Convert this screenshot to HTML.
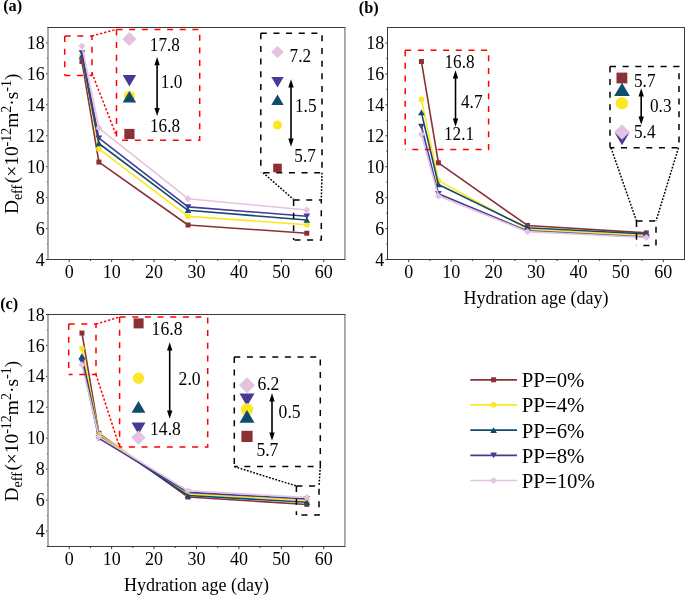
<!DOCTYPE html>
<html lang="en">
<head>
<meta charset="utf-8">
<title>Effective diffusion coefficient versus hydration age</title>
<style>
html,body{margin:0;padding:0;background:#fff;}
body{width:685px;height:595px;overflow:hidden;}
svg{display:block;font-family:"Liberation Serif", serif;fill:#000;}
</style>
</head>
<body>
<svg width="685" height="595" viewBox="0 0 685 595">
<rect x="0" y="0" width="685" height="595" fill="#fff"/>
<g id="pa">
<line x1="69.21" y1="259.5" x2="69.21" y2="262.1" stroke="#3a3a3a" stroke-width="1"/>
<line x1="90.43" y1="259.5" x2="90.43" y2="261.0" stroke="#3a3a3a" stroke-width="1"/>
<line x1="111.64" y1="259.5" x2="111.64" y2="262.1" stroke="#3a3a3a" stroke-width="1"/>
<line x1="132.86" y1="259.5" x2="132.86" y2="261.0" stroke="#3a3a3a" stroke-width="1"/>
<line x1="154.07" y1="259.5" x2="154.07" y2="262.1" stroke="#3a3a3a" stroke-width="1"/>
<line x1="175.29" y1="259.5" x2="175.29" y2="261.0" stroke="#3a3a3a" stroke-width="1"/>
<line x1="196.50" y1="259.5" x2="196.50" y2="262.1" stroke="#3a3a3a" stroke-width="1"/>
<line x1="217.71" y1="259.5" x2="217.71" y2="261.0" stroke="#3a3a3a" stroke-width="1"/>
<line x1="238.93" y1="259.5" x2="238.93" y2="262.1" stroke="#3a3a3a" stroke-width="1"/>
<line x1="260.14" y1="259.5" x2="260.14" y2="261.0" stroke="#3a3a3a" stroke-width="1"/>
<line x1="281.36" y1="259.5" x2="281.36" y2="262.1" stroke="#3a3a3a" stroke-width="1"/>
<line x1="302.57" y1="259.5" x2="302.57" y2="261.0" stroke="#3a3a3a" stroke-width="1"/>
<line x1="323.79" y1="259.5" x2="323.79" y2="262.1" stroke="#3a3a3a" stroke-width="1"/>
<line x1="46.0" y1="259.50" x2="48" y2="259.50" stroke="#3a3a3a" stroke-width="1"/>
<line x1="46.8" y1="244.03" x2="48" y2="244.03" stroke="#3a3a3a" stroke-width="1"/>
<line x1="46.0" y1="228.57" x2="48" y2="228.57" stroke="#3a3a3a" stroke-width="1"/>
<line x1="46.8" y1="213.10" x2="48" y2="213.10" stroke="#3a3a3a" stroke-width="1"/>
<line x1="46.0" y1="197.63" x2="48" y2="197.63" stroke="#3a3a3a" stroke-width="1"/>
<line x1="46.8" y1="182.17" x2="48" y2="182.17" stroke="#3a3a3a" stroke-width="1"/>
<line x1="46.0" y1="166.70" x2="48" y2="166.70" stroke="#3a3a3a" stroke-width="1"/>
<line x1="46.8" y1="151.23" x2="48" y2="151.23" stroke="#3a3a3a" stroke-width="1"/>
<line x1="46.0" y1="135.77" x2="48" y2="135.77" stroke="#3a3a3a" stroke-width="1"/>
<line x1="46.8" y1="120.30" x2="48" y2="120.30" stroke="#3a3a3a" stroke-width="1"/>
<line x1="46.0" y1="104.83" x2="48" y2="104.83" stroke="#3a3a3a" stroke-width="1"/>
<line x1="46.8" y1="89.37" x2="48" y2="89.37" stroke="#3a3a3a" stroke-width="1"/>
<line x1="46.0" y1="73.90" x2="48" y2="73.90" stroke="#3a3a3a" stroke-width="1"/>
<line x1="46.8" y1="58.43" x2="48" y2="58.43" stroke="#3a3a3a" stroke-width="1"/>
<line x1="46.0" y1="42.97" x2="48" y2="42.97" stroke="#3a3a3a" stroke-width="1"/>
<line x1="47.4" y1="27.50" x2="48" y2="27.50" stroke="#3a3a3a" stroke-width="1"/>
<line x1="47.5" y1="27.5" x2="345.5" y2="27.5" stroke="#3a3a3a" stroke-width="1"/>
<line x1="47.5" y1="259.5" x2="345.5" y2="259.5" stroke="#3a3a3a" stroke-width="1"/>
<line x1="48" y1="28.0" x2="48" y2="259.0" stroke="#989898" stroke-width="1.6"/>
<line x1="344.9" y1="28.0" x2="344.9" y2="259.0" stroke="#989898" stroke-width="1.6"/>
<text x="69.21" y="277.60" font-size="18" text-anchor="middle" font-weight="normal" >0</text>
<text x="111.64" y="277.60" font-size="18" text-anchor="middle" font-weight="normal" >10</text>
<text x="154.07" y="277.60" font-size="18" text-anchor="middle" font-weight="normal" >20</text>
<text x="196.50" y="277.60" font-size="18" text-anchor="middle" font-weight="normal" >30</text>
<text x="238.93" y="277.60" font-size="18" text-anchor="middle" font-weight="normal" >40</text>
<text x="281.36" y="277.60" font-size="18" text-anchor="middle" font-weight="normal" >50</text>
<text x="323.79" y="277.60" font-size="18" text-anchor="middle" font-weight="normal" >60</text>
<text x="44.80" y="265.60" font-size="18" text-anchor="end" font-weight="normal" >4</text>
<text x="44.80" y="234.67" font-size="18" text-anchor="end" font-weight="normal" >6</text>
<text x="44.80" y="203.73" font-size="18" text-anchor="end" font-weight="normal" >8</text>
<text x="44.80" y="172.80" font-size="18" text-anchor="end" font-weight="normal" >10</text>
<text x="44.80" y="141.87" font-size="18" text-anchor="end" font-weight="normal" >12</text>
<text x="44.80" y="110.93" font-size="18" text-anchor="end" font-weight="normal" >14</text>
<text x="44.80" y="80.00" font-size="18" text-anchor="end" font-weight="normal" >16</text>
<text x="44.80" y="49.07" font-size="18" text-anchor="end" font-weight="normal" >18</text>
<polyline points="81.94,61.53 98.91,162.06 188.01,225.01 306.81,233.21" fill="none" stroke="#8b3035" stroke-width="1.6" stroke-linejoin="round"/>
<rect x="79.44" y="59.03" width="5.00" height="5.00" fill="#8b3035"/>
<rect x="96.41" y="159.56" width="5.00" height="5.00" fill="#8b3035"/>
<rect x="185.51" y="222.51" width="5.00" height="5.00" fill="#8b3035"/>
<rect x="304.31" y="230.71" width="5.00" height="5.00" fill="#8b3035"/>
<polyline points="81.94,55.34 98.91,148.91 188.01,216.35 306.81,224.70" fill="none" stroke="#fbe723" stroke-width="1.6" stroke-linejoin="round"/>
<circle cx="81.94" cy="55.34" r="2.80" fill="#fbe723"/>
<circle cx="98.91" cy="148.91" r="2.80" fill="#fbe723"/>
<circle cx="188.01" cy="216.35" r="2.80" fill="#fbe723"/>
<circle cx="306.81" cy="224.70" r="2.80" fill="#fbe723"/>
<polyline points="81.94,56.11 98.91,143.50 188.01,210.32 306.81,220.06" fill="none" stroke="#0f4c70" stroke-width="1.6" stroke-linejoin="round"/>
<polygon points="81.94,53.11 85.30,58.81 78.58,58.81" fill="#0f4c70"/>
<polygon points="98.91,140.50 102.27,146.20 95.55,146.20" fill="#0f4c70"/>
<polygon points="188.01,207.32 191.37,213.02 184.65,213.02" fill="#0f4c70"/>
<polygon points="306.81,217.06 310.17,222.76 303.45,222.76" fill="#0f4c70"/>
<polyline points="81.94,53.02 98.91,138.09 188.01,206.91 306.81,216.19" fill="none" stroke="#453b92" stroke-width="1.6" stroke-linejoin="round"/>
<polygon points="81.94,56.02 85.30,50.32 78.58,50.32" fill="#453b92"/>
<polygon points="98.91,141.09 102.27,135.39 95.55,135.39" fill="#453b92"/>
<polygon points="188.01,209.91 191.37,204.21 184.65,204.21" fill="#453b92"/>
<polygon points="306.81,219.19 310.17,213.49 303.45,213.49" fill="#453b92"/>
<polyline points="81.94,46.06 98.91,128.03 188.01,198.72 306.81,210.01" fill="none" stroke="#e3c2e2" stroke-width="1.6" stroke-linejoin="round"/>
<polygon points="81.94,42.56 85.44,46.06 81.94,49.56 78.44,46.06" fill="#e3c2e2"/>
<polygon points="98.91,124.53 102.41,128.03 98.91,131.53 95.41,128.03" fill="#e3c2e2"/>
<polygon points="188.01,195.22 191.51,198.72 188.01,202.22 184.51,198.72" fill="#e3c2e2"/>
<polygon points="306.81,206.51 310.31,210.01 306.81,213.51 303.31,210.01" fill="#e3c2e2"/>
<polyline points="64.7,36 92,36 92,75.5 64.7,75.5" fill="none" stroke="#f00" stroke-width="1.5" stroke-dasharray="6 6.65"/><line x1="64.7" y1="36" x2="64.7" y2="75.5" stroke="#f00" stroke-width="1.5" stroke-dasharray="6 6.65"/>
<polyline points="116.5,29.4 199.7,29.4 199.7,140.3 116.5,140.3" fill="none" stroke="#f00" stroke-width="1.5" stroke-dasharray="6 6.65"/><line x1="116.5" y1="29.4" x2="116.5" y2="140.3" stroke="#f00" stroke-width="1.5" stroke-dasharray="6 6.65"/>
<line x1="92" y1="36" x2="116.5" y2="29.3" stroke="#f00" stroke-width="1.5" stroke-dasharray="2.3 1.9"/>
<line x1="92" y1="73" x2="116.5" y2="136" stroke="#f00" stroke-width="1.5" stroke-dasharray="2.3 1.9"/>
<polygon points="129.40,31.90 136.50,39.00 129.40,46.10 122.30,39.00" fill="#e3c2e2"/>
<polygon points="129.40,86.50 136.12,75.10 122.68,75.10" fill="#453b92"/>
<circle cx="129.40" cy="96.30" r="5.60" fill="#fbe723"/>
<polygon points="129.40,91.00 136.12,102.40 122.68,102.40" fill="#0f4c70"/>
<rect x="124.30" y="128.90" width="10.20" height="10.20" fill="#8b3035"/>
<text transform="translate(149.80,50.90) scale(0.955,1)" font-size="18" text-anchor="start" font-weight="normal" >17.8</text>
<text transform="translate(160.80,87.50) scale(0.955,1)" font-size="18" text-anchor="start" font-weight="normal" >1.0</text>
<text transform="translate(150.00,131.60) scale(0.955,1)" font-size="18" text-anchor="start" font-weight="normal" >16.8</text>
<line x1="157.1" y1="61.92" x2="157.1" y2="111.18" stroke="#000" stroke-width="1.6"/><polygon points="157.1,57.0 159.79999999999998,65.2 154.4,65.2" fill="#000"/><polygon points="157.1,116.1 159.79999999999998,107.89999999999999 154.4,107.89999999999999" fill="#000"/>
<polyline points="260.8,33.3 322,33.3 322,172.7 260.8,172.7" fill="none" stroke="#000" stroke-width="1.5" stroke-dasharray="6 6.65"/><line x1="260.8" y1="33.3" x2="260.8" y2="172.7" stroke="#000" stroke-width="1.5" stroke-dasharray="6 6.65"/>
<polyline points="293.6,200 321.3,200 321.3,240 293.6,240" fill="none" stroke="#000" stroke-width="1.5" stroke-dasharray="6 6.65"/><line x1="293.6" y1="200" x2="293.6" y2="240" stroke="#000" stroke-width="1.5" stroke-dasharray="6 6.65"/>
<line x1="263" y1="172.7" x2="293.6" y2="199.5" stroke="#000" stroke-width="1.5" stroke-dasharray="1.8 1.5"/>
<line x1="322" y1="172.7" x2="321.3" y2="200" stroke="#000" stroke-width="1.5" stroke-dasharray="1.8 1.5"/>
<polygon points="277.50,45.70 283.80,52.00 277.50,58.30 271.20,52.00" fill="#e3c2e2"/>
<polygon points="277.50,87.50 283.66,77.05 271.34,77.05" fill="#453b92"/>
<polygon points="277.50,94.50 283.66,104.95 271.34,104.95" fill="#0f4c70"/>
<circle cx="277.50" cy="125.00" r="4.60" fill="#fbe723"/>
<rect x="273.20" y="163.70" width="8.60" height="8.60" fill="#8b3035"/>
<text transform="translate(289.60,62.00) scale(0.955,1)" font-size="18" text-anchor="start" font-weight="normal" >7.2</text>
<text transform="translate(295.00,112.00) scale(0.955,1)" font-size="18" text-anchor="start" font-weight="normal" >1.5</text>
<text transform="translate(294.30,161.80) scale(0.955,1)" font-size="18" text-anchor="start" font-weight="normal" >5.7</text>
<line x1="291" y1="84.12" x2="291" y2="141.88" stroke="#000" stroke-width="1.6"/><polygon points="291,79.2 293.7,87.4 288.3,87.4" fill="#000"/><polygon points="291,146.8 293.7,138.60000000000002 288.3,138.60000000000002" fill="#000"/>
<text transform="translate(17.6,143.8) rotate(-90)" text-anchor="middle" font-size="19.4">D<tspan font-size="14.0" dy="4.3">eff</tspan><tspan dy="-4.3" dx="1.6">(×10</tspan><tspan font-size="14.0" dy="-7.0">-12</tspan><tspan dy="7.0">m</tspan><tspan font-size="14.0" dy="-7.0">2</tspan><tspan dy="7.0">·s</tspan><tspan font-size="14.0" dy="-7.0">-1</tspan><tspan dy="7.0">)</tspan></text>
<text x="3.20" y="11.30" font-size="16.3" text-anchor="start" font-weight="bold" >(a)</text>
</g>
<g id="pb">
<line x1="408.71" y1="259.5" x2="408.71" y2="262.1" stroke="#3a3a3a" stroke-width="1"/>
<line x1="429.93" y1="259.5" x2="429.93" y2="261.0" stroke="#3a3a3a" stroke-width="1"/>
<line x1="451.14" y1="259.5" x2="451.14" y2="262.1" stroke="#3a3a3a" stroke-width="1"/>
<line x1="472.36" y1="259.5" x2="472.36" y2="261.0" stroke="#3a3a3a" stroke-width="1"/>
<line x1="493.57" y1="259.5" x2="493.57" y2="262.1" stroke="#3a3a3a" stroke-width="1"/>
<line x1="514.79" y1="259.5" x2="514.79" y2="261.0" stroke="#3a3a3a" stroke-width="1"/>
<line x1="536.00" y1="259.5" x2="536.00" y2="262.1" stroke="#3a3a3a" stroke-width="1"/>
<line x1="557.21" y1="259.5" x2="557.21" y2="261.0" stroke="#3a3a3a" stroke-width="1"/>
<line x1="578.43" y1="259.5" x2="578.43" y2="262.1" stroke="#3a3a3a" stroke-width="1"/>
<line x1="599.64" y1="259.5" x2="599.64" y2="261.0" stroke="#3a3a3a" stroke-width="1"/>
<line x1="620.86" y1="259.5" x2="620.86" y2="262.1" stroke="#3a3a3a" stroke-width="1"/>
<line x1="642.07" y1="259.5" x2="642.07" y2="261.0" stroke="#3a3a3a" stroke-width="1"/>
<line x1="663.29" y1="259.5" x2="663.29" y2="262.1" stroke="#3a3a3a" stroke-width="1"/>
<line x1="385.5" y1="259.50" x2="387.5" y2="259.50" stroke="#3a3a3a" stroke-width="1"/>
<line x1="386.3" y1="244.03" x2="387.5" y2="244.03" stroke="#3a3a3a" stroke-width="1"/>
<line x1="385.5" y1="228.57" x2="387.5" y2="228.57" stroke="#3a3a3a" stroke-width="1"/>
<line x1="386.3" y1="213.10" x2="387.5" y2="213.10" stroke="#3a3a3a" stroke-width="1"/>
<line x1="385.5" y1="197.63" x2="387.5" y2="197.63" stroke="#3a3a3a" stroke-width="1"/>
<line x1="386.3" y1="182.17" x2="387.5" y2="182.17" stroke="#3a3a3a" stroke-width="1"/>
<line x1="385.5" y1="166.70" x2="387.5" y2="166.70" stroke="#3a3a3a" stroke-width="1"/>
<line x1="386.3" y1="151.23" x2="387.5" y2="151.23" stroke="#3a3a3a" stroke-width="1"/>
<line x1="385.5" y1="135.77" x2="387.5" y2="135.77" stroke="#3a3a3a" stroke-width="1"/>
<line x1="386.3" y1="120.30" x2="387.5" y2="120.30" stroke="#3a3a3a" stroke-width="1"/>
<line x1="385.5" y1="104.83" x2="387.5" y2="104.83" stroke="#3a3a3a" stroke-width="1"/>
<line x1="386.3" y1="89.37" x2="387.5" y2="89.37" stroke="#3a3a3a" stroke-width="1"/>
<line x1="385.5" y1="73.90" x2="387.5" y2="73.90" stroke="#3a3a3a" stroke-width="1"/>
<line x1="386.3" y1="58.43" x2="387.5" y2="58.43" stroke="#3a3a3a" stroke-width="1"/>
<line x1="385.5" y1="42.97" x2="387.5" y2="42.97" stroke="#3a3a3a" stroke-width="1"/>
<line x1="386.9" y1="27.50" x2="387.5" y2="27.50" stroke="#3a3a3a" stroke-width="1"/>
<line x1="387.0" y1="27.5" x2="685.0" y2="27.5" stroke="#3a3a3a" stroke-width="1"/>
<line x1="387.0" y1="259.5" x2="685.0" y2="259.5" stroke="#3a3a3a" stroke-width="1"/>
<line x1="387.5" y1="27.5" x2="387.5" y2="259.5" stroke="#3a3a3a" stroke-width="1"/>
<line x1="684.5" y1="27.5" x2="684.5" y2="259.5" stroke="#3a3a3a" stroke-width="1"/>
<text x="408.71" y="277.60" font-size="18" text-anchor="middle" font-weight="normal" >0</text>
<text x="451.14" y="277.60" font-size="18" text-anchor="middle" font-weight="normal" >10</text>
<text x="493.57" y="277.60" font-size="18" text-anchor="middle" font-weight="normal" >20</text>
<text x="536.00" y="277.60" font-size="18" text-anchor="middle" font-weight="normal" >30</text>
<text x="578.43" y="277.60" font-size="18" text-anchor="middle" font-weight="normal" >40</text>
<text x="620.86" y="277.60" font-size="18" text-anchor="middle" font-weight="normal" >50</text>
<text x="663.29" y="277.60" font-size="18" text-anchor="middle" font-weight="normal" >60</text>
<text x="384.30" y="265.60" font-size="18" text-anchor="end" font-weight="normal" >4</text>
<text x="384.30" y="234.67" font-size="18" text-anchor="end" font-weight="normal" >6</text>
<text x="384.30" y="203.73" font-size="18" text-anchor="end" font-weight="normal" >8</text>
<text x="384.30" y="172.80" font-size="18" text-anchor="end" font-weight="normal" >10</text>
<text x="384.30" y="141.87" font-size="18" text-anchor="end" font-weight="normal" >12</text>
<text x="384.30" y="110.93" font-size="18" text-anchor="end" font-weight="normal" >14</text>
<text x="384.30" y="80.00" font-size="18" text-anchor="end" font-weight="normal" >16</text>
<text x="384.30" y="49.07" font-size="18" text-anchor="end" font-weight="normal" >18</text>
<polyline points="421.44,61.53 438.41,162.83 527.51,225.47 646.31,232.90" fill="none" stroke="#8b3035" stroke-width="1.6" stroke-linejoin="round"/>
<rect x="418.94" y="59.03" width="5.00" height="5.00" fill="#8b3035"/>
<rect x="435.91" y="160.33" width="5.00" height="5.00" fill="#8b3035"/>
<rect x="525.01" y="222.97" width="5.00" height="5.00" fill="#8b3035"/>
<rect x="643.81" y="230.40" width="5.00" height="5.00" fill="#8b3035"/>
<polyline points="421.44,99.42 438.41,180.62 527.51,229.34 646.31,235.53" fill="none" stroke="#fbe723" stroke-width="1.6" stroke-linejoin="round"/>
<circle cx="421.44" cy="99.42" r="2.80" fill="#fbe723"/>
<circle cx="438.41" cy="180.62" r="2.80" fill="#fbe723"/>
<circle cx="527.51" cy="229.34" r="2.80" fill="#fbe723"/>
<circle cx="646.31" cy="235.53" r="2.80" fill="#fbe723"/>
<polyline points="421.44,112.57 438.41,184.49 527.51,227.79 646.31,233.98" fill="none" stroke="#0f4c70" stroke-width="1.6" stroke-linejoin="round"/>
<polygon points="421.44,109.57 424.80,115.27 418.08,115.27" fill="#0f4c70"/>
<polygon points="438.41,181.49 441.77,187.19 435.05,187.19" fill="#0f4c70"/>
<polygon points="527.51,224.79 530.87,230.49 524.15,230.49" fill="#0f4c70"/>
<polygon points="646.31,230.98 649.67,236.68 642.95,236.68" fill="#0f4c70"/>
<polyline points="421.44,126.49 438.41,193.77 527.51,230.89 646.31,237.07" fill="none" stroke="#453b92" stroke-width="1.6" stroke-linejoin="round"/>
<polygon points="421.44,129.49 424.80,123.79 418.08,123.79" fill="#453b92"/>
<polygon points="438.41,196.77 441.77,191.07 435.05,191.07" fill="#453b92"/>
<polygon points="527.51,233.89 530.87,228.19 524.15,228.19" fill="#453b92"/>
<polygon points="646.31,240.07 649.67,234.37 642.95,234.37" fill="#453b92"/>
<polyline points="421.44,134.22 438.41,196.09 527.51,231.66 646.31,237.54" fill="none" stroke="#e3c2e2" stroke-width="1.6" stroke-linejoin="round"/>
<polygon points="421.44,130.72 424.94,134.22 421.44,137.72 417.94,134.22" fill="#e3c2e2"/>
<polygon points="438.41,192.59 441.91,196.09 438.41,199.59 434.91,196.09" fill="#e3c2e2"/>
<polygon points="527.51,228.16 531.01,231.66 527.51,235.16 524.01,231.66" fill="#e3c2e2"/>
<polygon points="646.31,234.04 649.81,237.54 646.31,241.04 642.81,237.54" fill="#e3c2e2"/>
<polyline points="405.2,50.2 488.6,50.2 488.6,149.5 405.2,149.5" fill="none" stroke="#f00" stroke-width="1.5" stroke-dasharray="6 6.65"/><line x1="405.2" y1="50.2" x2="405.2" y2="149.5" stroke="#f00" stroke-width="1.5" stroke-dasharray="6 6.65"/>
<text transform="translate(444.50,67.50) scale(0.955,1)" font-size="18" text-anchor="start" font-weight="normal" >16.8</text>
<text transform="translate(461.00,107.50) scale(0.955,1)" font-size="18" text-anchor="start" font-weight="normal" >4.7</text>
<text transform="translate(444.00,140.00) scale(0.955,1)" font-size="18" text-anchor="start" font-weight="normal" >12.1</text>
<line x1="455.5" y1="75.12" x2="455.5" y2="121.88" stroke="#000" stroke-width="1.6"/><polygon points="455.5,70.2 458.2,78.4 452.8,78.4" fill="#000"/><polygon points="455.5,126.8 458.2,118.6 452.8,118.6" fill="#000"/>
<polyline points="610,66.4 679,66.4 679,147.8 610,147.8" fill="none" stroke="#000" stroke-width="1.5" stroke-dasharray="6 6.65"/><line x1="610" y1="66.4" x2="610" y2="147.8" stroke="#000" stroke-width="1.5" stroke-dasharray="6 6.65"/>
<polyline points="636.5,221 656,221 656,245.5 636.5,245.5" fill="none" stroke="#000" stroke-width="1.5" stroke-dasharray="6 6.65"/><line x1="636.5" y1="221" x2="636.5" y2="245.5" stroke="#000" stroke-width="1.5" stroke-dasharray="6 6.65"/>
<line x1="611" y1="147.8" x2="636.5" y2="221" stroke="#000" stroke-width="1.5" stroke-dasharray="1.8 1.5"/>
<line x1="678.5" y1="147.8" x2="656" y2="221" stroke="#000" stroke-width="1.5" stroke-dasharray="1.8 1.5"/>
<rect x="616.50" y="72.60" width="10.80" height="10.80" fill="#8b3035"/>
<polygon points="622.00,82.70 629.84,96.00 614.16,96.00" fill="#0f4c70"/>
<circle cx="621.90" cy="103.30" r="6.20" fill="#fbe723"/>
<polygon points="622.00,145.30 629.06,133.33 614.94,133.33" fill="#453b92"/>
<polygon points="622.00,124.20 629.80,132.00 622.00,139.80 614.20,132.00" fill="#e3c2e2"/>
<text transform="translate(634.00,86.80) scale(0.955,1)" font-size="18" text-anchor="start" font-weight="normal" >5.7</text>
<text transform="translate(650.00,111.60) scale(0.955,1)" font-size="18" text-anchor="start" font-weight="normal" >0.3</text>
<text transform="translate(634.00,138.30) scale(0.955,1)" font-size="18" text-anchor="start" font-weight="normal" >5.4</text>
<line x1="641.2" y1="93.12" x2="641.2" y2="119.88" stroke="#000" stroke-width="1.6"/><polygon points="641.2,88.2 643.9000000000001,96.4 638.5,96.4" fill="#000"/><polygon points="641.2,124.8 643.9000000000001,116.6 638.5,116.6" fill="#000"/>
<text x="536.00" y="303.80" font-size="18" text-anchor="middle" font-weight="normal" >Hydration age (day)</text>
<text x="358.80" y="13.40" font-size="16.3" text-anchor="start" font-weight="bold" >(b)</text>
</g>
<g id="pc">
<line x1="69.21" y1="546.5" x2="69.21" y2="549.1" stroke="#3a3a3a" stroke-width="1"/>
<line x1="90.43" y1="546.5" x2="90.43" y2="548.0" stroke="#3a3a3a" stroke-width="1"/>
<line x1="111.64" y1="546.5" x2="111.64" y2="549.1" stroke="#3a3a3a" stroke-width="1"/>
<line x1="132.86" y1="546.5" x2="132.86" y2="548.0" stroke="#3a3a3a" stroke-width="1"/>
<line x1="154.07" y1="546.5" x2="154.07" y2="549.1" stroke="#3a3a3a" stroke-width="1"/>
<line x1="175.29" y1="546.5" x2="175.29" y2="548.0" stroke="#3a3a3a" stroke-width="1"/>
<line x1="196.50" y1="546.5" x2="196.50" y2="549.1" stroke="#3a3a3a" stroke-width="1"/>
<line x1="217.71" y1="546.5" x2="217.71" y2="548.0" stroke="#3a3a3a" stroke-width="1"/>
<line x1="238.93" y1="546.5" x2="238.93" y2="549.1" stroke="#3a3a3a" stroke-width="1"/>
<line x1="260.14" y1="546.5" x2="260.14" y2="548.0" stroke="#3a3a3a" stroke-width="1"/>
<line x1="281.36" y1="546.5" x2="281.36" y2="549.1" stroke="#3a3a3a" stroke-width="1"/>
<line x1="302.57" y1="546.5" x2="302.57" y2="548.0" stroke="#3a3a3a" stroke-width="1"/>
<line x1="323.79" y1="546.5" x2="323.79" y2="549.1" stroke="#3a3a3a" stroke-width="1"/>
<line x1="46.8" y1="546.50" x2="48" y2="546.50" stroke="#3a3a3a" stroke-width="1"/>
<line x1="46.0" y1="531.03" x2="48" y2="531.03" stroke="#3a3a3a" stroke-width="1"/>
<line x1="46.8" y1="515.57" x2="48" y2="515.57" stroke="#3a3a3a" stroke-width="1"/>
<line x1="46.0" y1="500.10" x2="48" y2="500.10" stroke="#3a3a3a" stroke-width="1"/>
<line x1="46.8" y1="484.63" x2="48" y2="484.63" stroke="#3a3a3a" stroke-width="1"/>
<line x1="46.0" y1="469.17" x2="48" y2="469.17" stroke="#3a3a3a" stroke-width="1"/>
<line x1="46.8" y1="453.70" x2="48" y2="453.70" stroke="#3a3a3a" stroke-width="1"/>
<line x1="46.0" y1="438.23" x2="48" y2="438.23" stroke="#3a3a3a" stroke-width="1"/>
<line x1="46.8" y1="422.77" x2="48" y2="422.77" stroke="#3a3a3a" stroke-width="1"/>
<line x1="46.0" y1="407.30" x2="48" y2="407.30" stroke="#3a3a3a" stroke-width="1"/>
<line x1="46.8" y1="391.83" x2="48" y2="391.83" stroke="#3a3a3a" stroke-width="1"/>
<line x1="46.0" y1="376.37" x2="48" y2="376.37" stroke="#3a3a3a" stroke-width="1"/>
<line x1="46.8" y1="360.90" x2="48" y2="360.90" stroke="#3a3a3a" stroke-width="1"/>
<line x1="46.0" y1="345.43" x2="48" y2="345.43" stroke="#3a3a3a" stroke-width="1"/>
<line x1="46.8" y1="329.97" x2="48" y2="329.97" stroke="#3a3a3a" stroke-width="1"/>
<line x1="46.0" y1="314.50" x2="48" y2="314.50" stroke="#3a3a3a" stroke-width="1"/>
<line x1="47.5" y1="314.5" x2="345.5" y2="314.5" stroke="#3a3a3a" stroke-width="1"/>
<line x1="47.5" y1="546.5" x2="345.5" y2="546.5" stroke="#3a3a3a" stroke-width="1"/>
<line x1="48" y1="315.0" x2="48" y2="546.0" stroke="#989898" stroke-width="1.6"/>
<line x1="344.9" y1="315.0" x2="344.9" y2="546.0" stroke="#989898" stroke-width="1.6"/>
<text x="69.21" y="564.60" font-size="18" text-anchor="middle" font-weight="normal" >0</text>
<text x="111.64" y="564.60" font-size="18" text-anchor="middle" font-weight="normal" >10</text>
<text x="154.07" y="564.60" font-size="18" text-anchor="middle" font-weight="normal" >20</text>
<text x="196.50" y="564.60" font-size="18" text-anchor="middle" font-weight="normal" >30</text>
<text x="238.93" y="564.60" font-size="18" text-anchor="middle" font-weight="normal" >40</text>
<text x="281.36" y="564.60" font-size="18" text-anchor="middle" font-weight="normal" >50</text>
<text x="323.79" y="564.60" font-size="18" text-anchor="middle" font-weight="normal" >60</text>
<text x="44.80" y="537.13" font-size="18" text-anchor="end" font-weight="normal" >4</text>
<text x="44.80" y="506.20" font-size="18" text-anchor="end" font-weight="normal" >6</text>
<text x="44.80" y="475.27" font-size="18" text-anchor="end" font-weight="normal" >8</text>
<text x="44.80" y="444.33" font-size="18" text-anchor="end" font-weight="normal" >10</text>
<text x="44.80" y="413.40" font-size="18" text-anchor="end" font-weight="normal" >12</text>
<text x="44.80" y="382.47" font-size="18" text-anchor="end" font-weight="normal" >14</text>
<text x="44.80" y="351.53" font-size="18" text-anchor="end" font-weight="normal" >16</text>
<text x="44.80" y="320.60" font-size="18" text-anchor="end" font-weight="normal" >18</text>
<polyline points="81.94,333.06 98.91,433.28 188.01,497.01 306.81,504.43" fill="none" stroke="#8b3035" stroke-width="1.6" stroke-linejoin="round"/>
<rect x="79.44" y="330.56" width="5.00" height="5.00" fill="#8b3035"/>
<rect x="96.41" y="430.78" width="5.00" height="5.00" fill="#8b3035"/>
<rect x="185.51" y="494.51" width="5.00" height="5.00" fill="#8b3035"/>
<rect x="304.31" y="501.93" width="5.00" height="5.00" fill="#8b3035"/>
<polyline points="81.94,348.53 98.91,434.37 188.01,493.91 306.81,500.56" fill="none" stroke="#fbe723" stroke-width="1.6" stroke-linejoin="round"/>
<circle cx="81.94" cy="348.53" r="2.80" fill="#fbe723"/>
<circle cx="98.91" cy="434.37" r="2.80" fill="#fbe723"/>
<circle cx="188.01" cy="493.91" r="2.80" fill="#fbe723"/>
<circle cx="306.81" cy="500.56" r="2.80" fill="#fbe723"/>
<polyline points="81.94,356.26 98.91,435.91 188.01,495.46 306.81,502.27" fill="none" stroke="#0f4c70" stroke-width="1.6" stroke-linejoin="round"/>
<polygon points="81.94,353.26 85.30,358.96 78.58,358.96" fill="#0f4c70"/>
<polygon points="98.91,432.91 102.27,438.61 95.55,438.61" fill="#0f4c70"/>
<polygon points="188.01,492.46 191.37,498.16 184.65,498.16" fill="#0f4c70"/>
<polygon points="306.81,499.27 310.17,504.97 303.45,504.97" fill="#0f4c70"/>
<polyline points="81.94,361.36 98.91,438.23 188.01,492.37 306.81,499.02" fill="none" stroke="#453b92" stroke-width="1.6" stroke-linejoin="round"/>
<polygon points="81.94,364.36 85.30,358.66 78.58,358.66" fill="#453b92"/>
<polygon points="98.91,441.23 102.27,435.53 95.55,435.53" fill="#453b92"/>
<polygon points="188.01,495.37 191.37,489.67 184.65,489.67" fill="#453b92"/>
<polygon points="306.81,502.02 310.17,496.32 303.45,496.32" fill="#453b92"/>
<polyline points="81.94,364.77 98.91,436.69 188.01,490.82 306.81,497.47" fill="none" stroke="#e3c2e2" stroke-width="1.6" stroke-linejoin="round"/>
<polygon points="81.94,361.27 85.44,364.77 81.94,368.27 78.44,364.77" fill="#e3c2e2"/>
<polygon points="98.91,433.19 102.41,436.69 98.91,440.19 95.41,436.69" fill="#e3c2e2"/>
<polygon points="188.01,487.32 191.51,490.82 188.01,494.32 184.51,490.82" fill="#e3c2e2"/>
<polygon points="306.81,493.97 310.31,497.47 306.81,500.97 303.31,497.47" fill="#e3c2e2"/>
<polyline points="68.7,324.1 96,324.1 96,374.6 68.7,374.6" fill="none" stroke="#f00" stroke-width="1.5" stroke-dasharray="6 6.65"/><line x1="68.7" y1="324.1" x2="68.7" y2="374.6" stroke="#f00" stroke-width="1.5" stroke-dasharray="6 6.65"/>
<polyline points="119.6,317 207.7,317 207.7,447 119.6,447" fill="none" stroke="#f00" stroke-width="1.5" stroke-dasharray="6 6.65"/><line x1="119.6" y1="317" x2="119.6" y2="447" stroke="#f00" stroke-width="1.5" stroke-dasharray="6 6.65"/>
<line x1="96" y1="324.1" x2="119.6" y2="317" stroke="#f00" stroke-width="1.5" stroke-dasharray="2.3 1.9"/>
<line x1="96" y1="374.6" x2="119.6" y2="447" stroke="#f00" stroke-width="1.5" stroke-dasharray="2.3 1.9"/>
<rect x="133.60" y="318.40" width="10.00" height="10.00" fill="#8b3035"/>
<circle cx="138.50" cy="378.20" r="5.60" fill="#fbe723"/>
<polygon points="138.50,401.00 145.44,412.78 131.56,412.78" fill="#0f4c70"/>
<polygon points="138.50,434.40 145.44,422.62 131.56,422.62" fill="#453b92"/>
<polygon points="138.50,430.40 145.70,437.60 138.50,444.80 131.30,437.60" fill="#e3c2e2"/>
<text transform="translate(151.60,335.20) scale(0.98,1)" font-size="18" text-anchor="start" font-weight="normal" >16.8</text>
<text transform="translate(178.60,384.60) scale(0.98,1)" font-size="18" text-anchor="start" font-weight="normal" >2.0</text>
<text transform="translate(150.00,435.20) scale(0.98,1)" font-size="18" text-anchor="start" font-weight="normal" >14.8</text>
<line x1="169.7" y1="347.12" x2="169.7" y2="413.88" stroke="#000" stroke-width="1.6"/><polygon points="169.7,342.2 172.39999999999998,350.4 167.0,350.4" fill="#000"/><polygon points="169.7,418.8 172.39999999999998,410.6 167.0,410.6" fill="#000"/>
<polyline points="234.3,356.9 320.3,356.9 320.3,466.6 234.3,466.6" fill="none" stroke="#000" stroke-width="1.5" stroke-dasharray="6 6.65"/><line x1="234.3" y1="356.9" x2="234.3" y2="466.6" stroke="#000" stroke-width="1.5" stroke-dasharray="6 6.65"/>
<polyline points="296.4,486 319,486 319,515.1 296.4,515.1" fill="none" stroke="#000" stroke-width="1.5" stroke-dasharray="6 6.65"/><line x1="296.4" y1="486" x2="296.4" y2="515.1" stroke="#000" stroke-width="1.5" stroke-dasharray="6 6.65"/>
<line x1="234.3" y1="466.6" x2="296.4" y2="486" stroke="#000" stroke-width="1.5" stroke-dasharray="1.8 1.5"/>
<line x1="320.3" y1="466.6" x2="319" y2="486" stroke="#000" stroke-width="1.5" stroke-dasharray="1.8 1.5"/>
<polygon points="247.00,377.30 255.00,385.30 247.00,393.30 239.00,385.30" fill="#e3c2e2"/>
<polygon points="247.00,406.30 254.50,393.57 239.50,393.57" fill="#453b92"/>
<circle cx="247.00" cy="409.40" r="6.20" fill="#fbe723"/>
<polygon points="247.00,409.90 254.50,422.63 239.50,422.63" fill="#0f4c70"/>
<rect x="241.40" y="430.80" width="11.20" height="11.20" fill="#8b3035"/>
<text transform="translate(257.40,389.60) scale(0.98,1)" font-size="18" text-anchor="start" font-weight="normal" >6.2</text>
<text transform="translate(278.60,418.00) scale(0.98,1)" font-size="18" text-anchor="start" font-weight="normal" >0.5</text>
<text transform="translate(256.40,456.00) scale(0.98,1)" font-size="18" text-anchor="start" font-weight="normal" >5.7</text>
<line x1="272" y1="398.12" x2="272" y2="435.88" stroke="#000" stroke-width="1.6"/><polygon points="272,393.2 274.7,401.4 269.3,401.4" fill="#000"/><polygon points="272,440.8 274.7,432.6 269.3,432.6" fill="#000"/>
<text transform="translate(17.6,431.2) rotate(-90)" text-anchor="middle" font-size="19.4">D<tspan font-size="14.0" dy="4.3">eff</tspan><tspan dy="-4.3" dx="1.6">(×10</tspan><tspan font-size="14.0" dy="-7.0">-12</tspan><tspan dy="7.0">m</tspan><tspan font-size="14.0" dy="-7.0">2</tspan><tspan dy="7.0">·s</tspan><tspan font-size="14.0" dy="-7.0">-1</tspan><tspan dy="7.0">)</tspan></text>
<text x="196.50" y="591.10" font-size="18" text-anchor="middle" font-weight="normal" >Hydration age (day)</text>
<text x="0.20" y="308.70" font-size="16.3" text-anchor="start" font-weight="bold" >(c)</text>
</g>
<g id="lg">
<line x1="470.3" y1="379.8" x2="517" y2="379.8" stroke="#8b3035" stroke-width="1.7"/>
<rect x="491.10" y="377.30" width="5.00" height="5.00" fill="#8b3035"/>
<text x="521.80" y="387.20" font-size="20.8" text-anchor="start" font-weight="normal" >PP=0%</text>
<line x1="470.3" y1="404.8" x2="517" y2="404.8" stroke="#fbe723" stroke-width="1.7"/>
<circle cx="493.60" cy="404.80" r="2.80" fill="#fbe723"/>
<text x="521.80" y="412.20" font-size="20.8" text-anchor="start" font-weight="normal" >PP=4%</text>
<line x1="470.3" y1="430.2" x2="517" y2="430.2" stroke="#0f4c70" stroke-width="1.7"/>
<polygon points="493.60,427.20 496.96,432.90 490.24,432.90" fill="#0f4c70"/>
<text x="521.80" y="437.60" font-size="20.8" text-anchor="start" font-weight="normal" >PP=6%</text>
<line x1="470.3" y1="455.3" x2="517" y2="455.3" stroke="#453b92" stroke-width="1.7"/>
<polygon points="493.60,458.30 496.96,452.60 490.24,452.60" fill="#453b92"/>
<text x="521.80" y="462.70" font-size="20.8" text-anchor="start" font-weight="normal" >PP=8%</text>
<line x1="470.3" y1="480.5" x2="517" y2="480.5" stroke="#e3c2e2" stroke-width="1.7"/>
<polygon points="493.60,477.00 497.10,480.50 493.60,484.00 490.10,480.50" fill="#e3c2e2"/>
<text x="521.80" y="487.90" font-size="20.8" text-anchor="start" font-weight="normal" >PP=10%</text>
</g>
</svg>
</body>
</html>
